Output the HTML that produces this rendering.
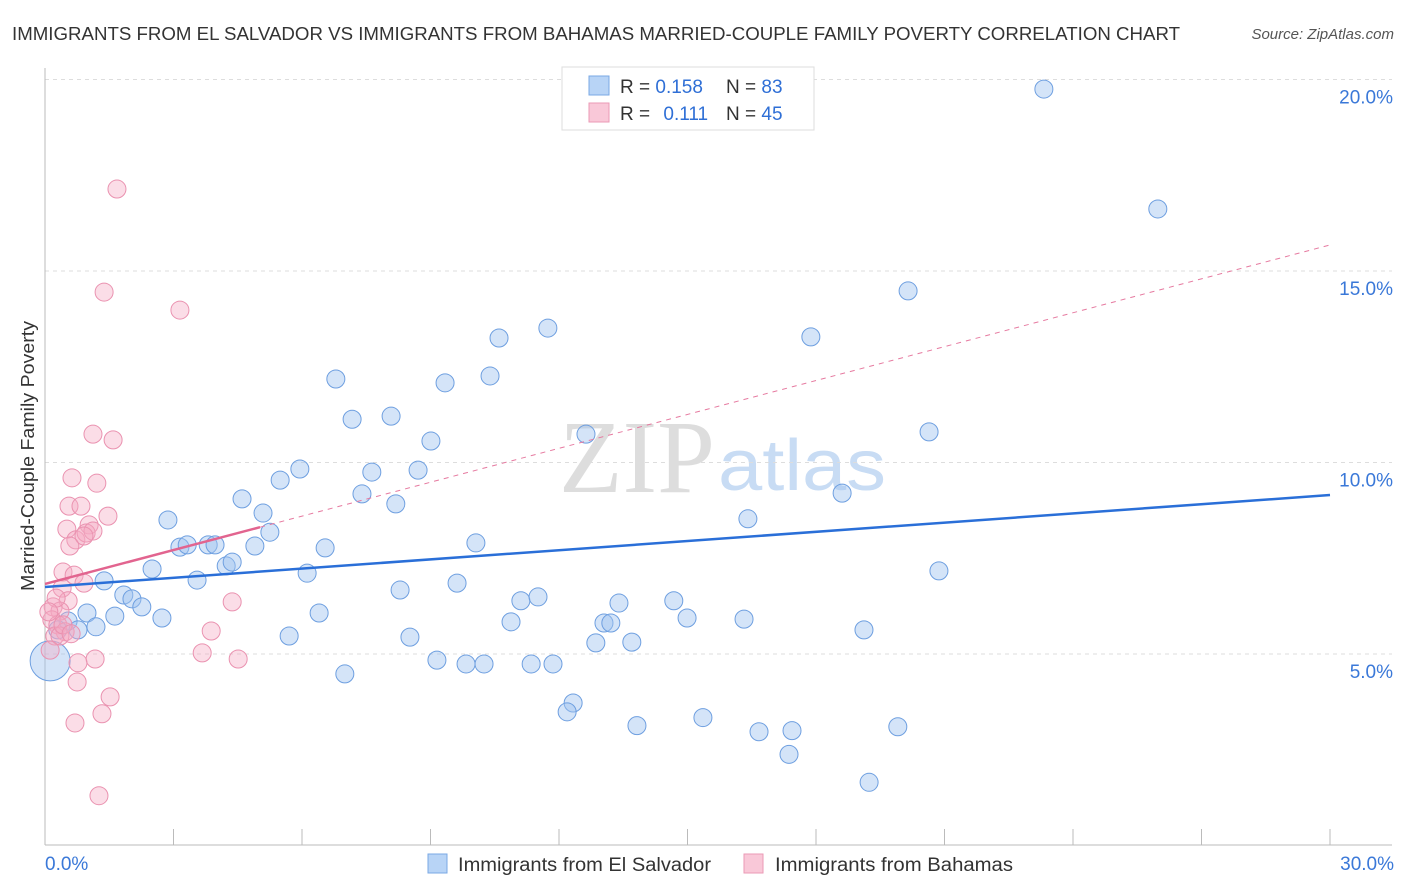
<!DOCTYPE html>
<html><head><meta charset="utf-8"><style>
body{margin:0;background:#fff;font-family:"Liberation Sans",sans-serif}
#wrap{position:relative;width:1406px;height:892px;overflow:hidden}
</style></head><body>
<div id="wrap">
<svg id="svg" width="1406" height="892" xmlns="http://www.w3.org/2000/svg">
<text x="12" y="40" font-size="18" fill="#333" textLength="1168" lengthAdjust="spacingAndGlyphs">IMMIGRANTS FROM EL SALVADOR VS IMMIGRANTS FROM BAHAMAS MARRIED-COUPLE FAMILY POVERTY CORRELATION CHART</text>
<text x="1394" y="39" font-size="15" fill="#555" font-style="italic" text-anchor="end">Source: ZipAtlas.com</text>
<text transform="translate(34,456) rotate(-90)" font-size="18" fill="#333" text-anchor="middle" textLength="270" lengthAdjust="spacingAndGlyphs">Married-Couple Family Poverty</text>
<text x="715" y="492" font-size="104" fill="#ddd" text-anchor="end" font-family="Liberation Serif,serif">ZIP</text>
<text x="718" y="490" font-size="72" fill="#c8dcf4" textLength="168" lengthAdjust="spacingAndGlyphs">atlas</text>
<g id="grid"></g><g id="axes"></g><g id="pts"></g><g id="lines"></g>
<g>
<rect x="562" y="67" width="252" height="63" fill="#fff" stroke="#ddd"/>
<rect x="589" y="76" width="20" height="19" fill="#b8d4f6" stroke="#7aa8e4"/>
<rect x="589" y="103" width="20" height="19" fill="#f9c8d8" stroke="#eb9ab6"/>
<text x="620" y="93" font-size="19" fill="#333">R = <tspan fill="#2f6fd6">0.158</tspan></text>
<text x="726" y="93" font-size="19" fill="#333">N = <tspan fill="#2f6fd6">83</tspan></text>
<text x="620" y="120" font-size="19" fill="#333">R = <tspan fill="#2f6fd6" dx="8">0.111</tspan></text>
<text x="726" y="120" font-size="19" fill="#333">N = <tspan fill="#2f6fd6">45</tspan></text>
</g>
<g>
<rect x="428" y="854" width="19" height="19" fill="#b8d4f6" stroke="#7aa8e4"/>
<text x="458" y="871" font-size="19" fill="#333" textLength="253" lengthAdjust="spacingAndGlyphs">Immigrants from El Salvador</text>
<rect x="744" y="854" width="19" height="19" fill="#f9c8d8" stroke="#eb9ab6"/>
<text x="775" y="871" font-size="19" fill="#333" textLength="238" lengthAdjust="spacingAndGlyphs">Immigrants from Bahamas</text>
</g>
</svg>
</div>
<script>
const xTicks=[0,30];
const yTicks=[5,10,15,20];
const blueX=[23.32,25.98,20.15,11.74,10.60,17.88,6.79,10.39,9.34,8.08,7.17,9.01,12.63,20.64,5.95,7.63,8.71,5.49,4.60,7.40,8.19,5.09,18.61,2.87,16.41,5.25,3.15,3.32,3.81,3.97,4.90,6.54,10.06,4.23,4.37,2.50,6.12,20.87,1.38,3.55,9.62,1.84,2.03,2.26,8.29,11.11,11.51,13.40,14.68,0.98,1.63,2.73,6.40,10.88,13.05,13.21,14.99,16.32,19.12,0.54,0.77,1.19,0.30,5.70,8.52,12.86,13.70,9.15,9.83,10.25,11.35,11.86,7.00,12.33,12.19,13.82,15.36,16.67,17.44,19.91,17.37,19.24,0.12];
const blueY=[19.75,16.62,14.48,13.51,13.25,13.28,12.18,12.26,12.08,11.21,11.13,10.56,10.74,10.80,9.83,9.75,9.80,9.54,9.05,9.18,8.92,8.68,9.20,8.50,8.53,8.18,7.79,7.85,7.85,7.85,7.82,7.77,7.90,7.30,7.40,7.22,7.11,7.17,6.91,6.93,6.85,6.54,6.44,6.23,6.67,6.39,6.49,6.33,6.39,6.07,5.99,5.94,6.07,5.84,5.81,5.81,5.94,5.91,5.63,5.86,5.63,5.71,5.63,5.47,5.44,5.29,5.31,4.84,4.74,4.74,4.74,4.74,4.48,3.72,3.49,3.13,3.34,2.97,3.00,3.10,2.38,1.65,4.82];
const pinkX=[1.68,1.38,3.15,1.12,1.59,0.63,1.21,0.56,0.84,1.47,0.51,1.03,0.72,0.96,1.12,0.91,0.42,0.68,0.91,0.40,0.54,0.19,0.35,4.37,0.16,0.30,0.47,0.23,3.88,0.35,0.12,3.67,4.51,1.17,0.77,1.52,0.75,1.33,0.70,1.26,0.58,0.26,0.42,0.61,0.09];
const pinkY=[17.14,14.45,13.98,10.74,10.59,9.60,9.46,8.86,8.86,8.60,8.26,8.37,7.98,8.16,8.21,8.08,7.14,7.06,6.85,6.72,6.39,6.23,6.12,6.36,5.89,5.76,5.58,5.47,5.60,5.47,5.10,5.03,4.87,4.87,4.77,3.88,4.27,3.44,3.20,1.30,7.82,6.46,5.76,5.53,6.10];
const blueTrend=[6.75,9.15];
const pinkTrend=[6.83,15.68];
const pinkSolidEnd=5.02;
const X=v=>45+v/30*1285, Y=v=>845.5-v*38.3;
const NS='http://www.w3.org/2000/svg';
function mk(tag,attrs,parent){const e=document.createElementNS(NS,tag);for(const k in attrs)e.setAttribute(k,attrs[k]);document.getElementById(parent).appendChild(e);return e;}
yTicks.forEach(t=>{
 const l=mk('line',{x1:45,x2:1392,y1:Y(t),y2:Y(t),stroke:'#ddd','stroke-dasharray':'4,4'},'grid');
 
 
 const tx=mk('text',{x:1393,y:Y(t)+24,'font-size':19,fill:'#3a78d8','text-anchor':'end'},'grid');
 tx.textContent=t.toFixed(1)+'%';
 
 
});
const ax=mk('line',{x1:45,x2:1392,y1:845,y2:845,stroke:'#bbb'},'axes');


const ay=mk('line',{x1:45,x2:45,y1:68,y2:845,stroke:'#bbb'},'axes');


for(let i=0;i<=10;i++){const tk=mk('line',{x1:X(i*3),x2:X(i*3),y1:829,y2:845,stroke:'#bbb'},'axes');
 
 }
xTicks.forEach((t,i)=>{const tx=mk('text',{x:i?1394:45,y:870,'font-size':19,fill:'#3a78d8','text-anchor':i?'end':'start'},'axes');
 tx.textContent=t.toFixed(1)+'%';
 
 });
blueX.forEach((x,i)=>{const c=mk('circle',{cx:X(x),cy:Y(blueY[i]),r:i==blueX.length-1?20:9,fill:'rgba(160,196,240,0.45)',stroke:'#6e9fe0','stroke-width':1},'pts');
 
 });
pinkX.forEach((x,i)=>{const c=mk('circle',{cx:X(x),cy:Y(pinkY[i]),r:9,fill:'rgba(244,170,195,0.4)',stroke:'#ea92b0','stroke-width':1},'pts');
 
 });
const bt=mk('line',{x1:X(0),y1:Y(blueTrend[0]),x2:X(30),y2:Y(blueTrend[1]),stroke:'#2a6fd8','stroke-width':2.5},'lines');


const pe=pinkTrend[0]+(pinkTrend[1]-pinkTrend[0])*pinkSolidEnd/30;
const pd=mk('line',{x1:X(pinkSolidEnd),y1:Y(pe),x2:X(30),y2:Y(pinkTrend[1]),stroke:'#e67aa0','stroke-width':1,'stroke-dasharray':'5,5'},'lines');


const ps=mk('line',{x1:X(0),y1:Y(pinkTrend[0]),x2:X(pinkSolidEnd),y2:Y(pe),stroke:'#e2648f','stroke-width':2.5},'lines');


</script>
</body></html>
